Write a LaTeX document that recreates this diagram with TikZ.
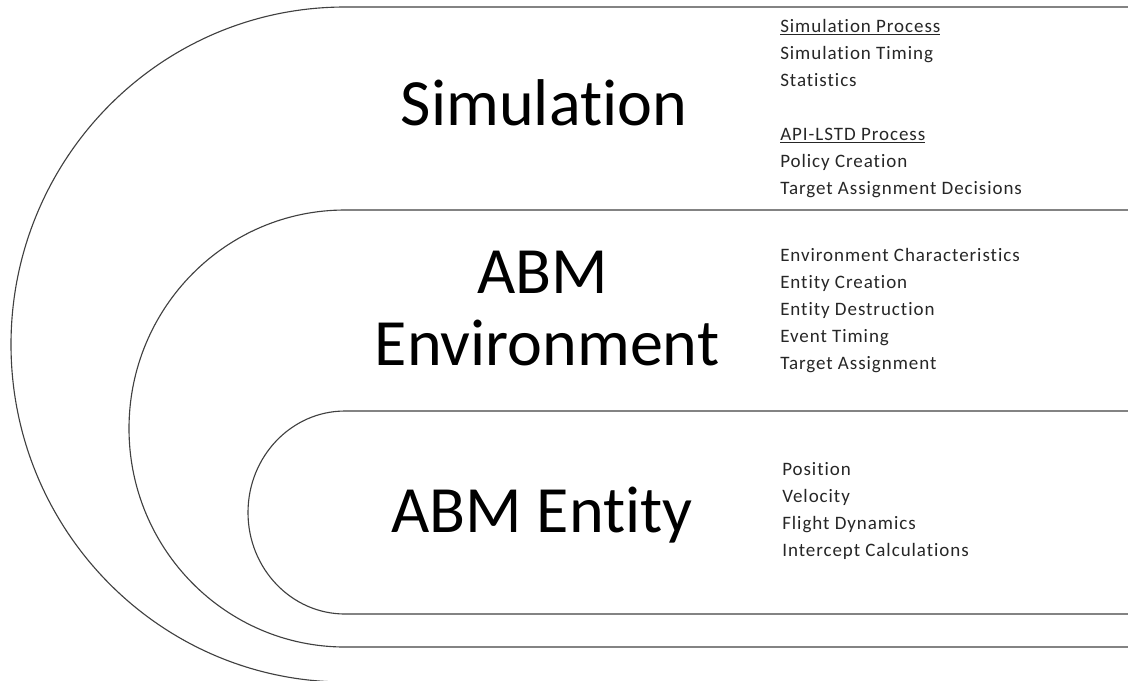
\documentclass[tikz,border=0pt]{standalone}
\usepackage{fontspec}
\setmainfont{Carlito}[Ligatures=NoCommon]
\newfontfamily\itemfont{Carlito}[Ligatures=NoCommon, LetterSpace=5]
\usetikzlibrary{positioning}
\tikzset{
x=0.025cm, y=-0.025cm,
layer/.style={draw=black!75, line width=0.8pt},
title/.style={font=\fontsize{47}{52}\selectfont, anchor=base, inner sep=0pt},
item/.style={font=\itemfont\fontsize{13.5}{15}\selectfont, anchor=base west, inner sep=0pt, text=black!85},
}

\begin{document}
\begin{tikzpicture}
            \useasboundingbox (0,0) rectangle (1128,680);
            \clip (0,0) rectangle (1128,680);

            % Layers, outside in
            \draw[layer] (1128,7) -- (345,7) arc[start angle=270, end angle=90, x radius=334, y radius=337.5] -- (1128,682);
            \draw[layer] (1128,210) -- (345,210) arc[start angle=270, end angle=90, x radius=216, y radius=218.5] -- (1128,647);
            \draw[layer] (1128,411) -- (345,411) arc[start angle=270, end angle=90, x radius=97, y radius=101.5] -- (1128,614);

            % Titles
            \node[title] (sim) at (544,125) {Simulation};
            \node[title] (env1) at (543,293) {ABM};
            \node[title] (env2) at (547,365) {Environment};
            \node[title] (ent) at (542,532) {ABM Entity};

            % Simulation items
            \node[item] (sp) at (780,32) {\underline{Simulation Process}};
            \node[item] (st) at (780,59) {Simulation Timing};
            \node[item] (ss) at (780,86) {Statistics};
            \node[item] (ap) at (780,140) {\underline{API-LSTD Process}};
            \node[item] (pc) at (780,167) {Policy Creation};
            \node[item] (td) at (780,194) {Target Assignment Decisions};

            % Environment items
            \node[item] (ec) at (780,261) {Environment Characteristics};
            \node[item] (cr) at (780,288) {Entity Creation};
            \node[item] (de) at (780,315) {Entity Destruction};
            \node[item] (et) at (780,342) {Event Timing};
            \node[item] (ta) at (780,369) {Target Assignment};

            % Entity items
            \node[item] (po) at (782,475) {Position};
            \node[item] (ve) at (782,502) {Velocity};
            \node[item] (fd) at (782,529) {Flight Dynamics};
            \node[item] (ic) at (782,556) {Intercept Calculations};
     \end{tikzpicture}
\end{document}
